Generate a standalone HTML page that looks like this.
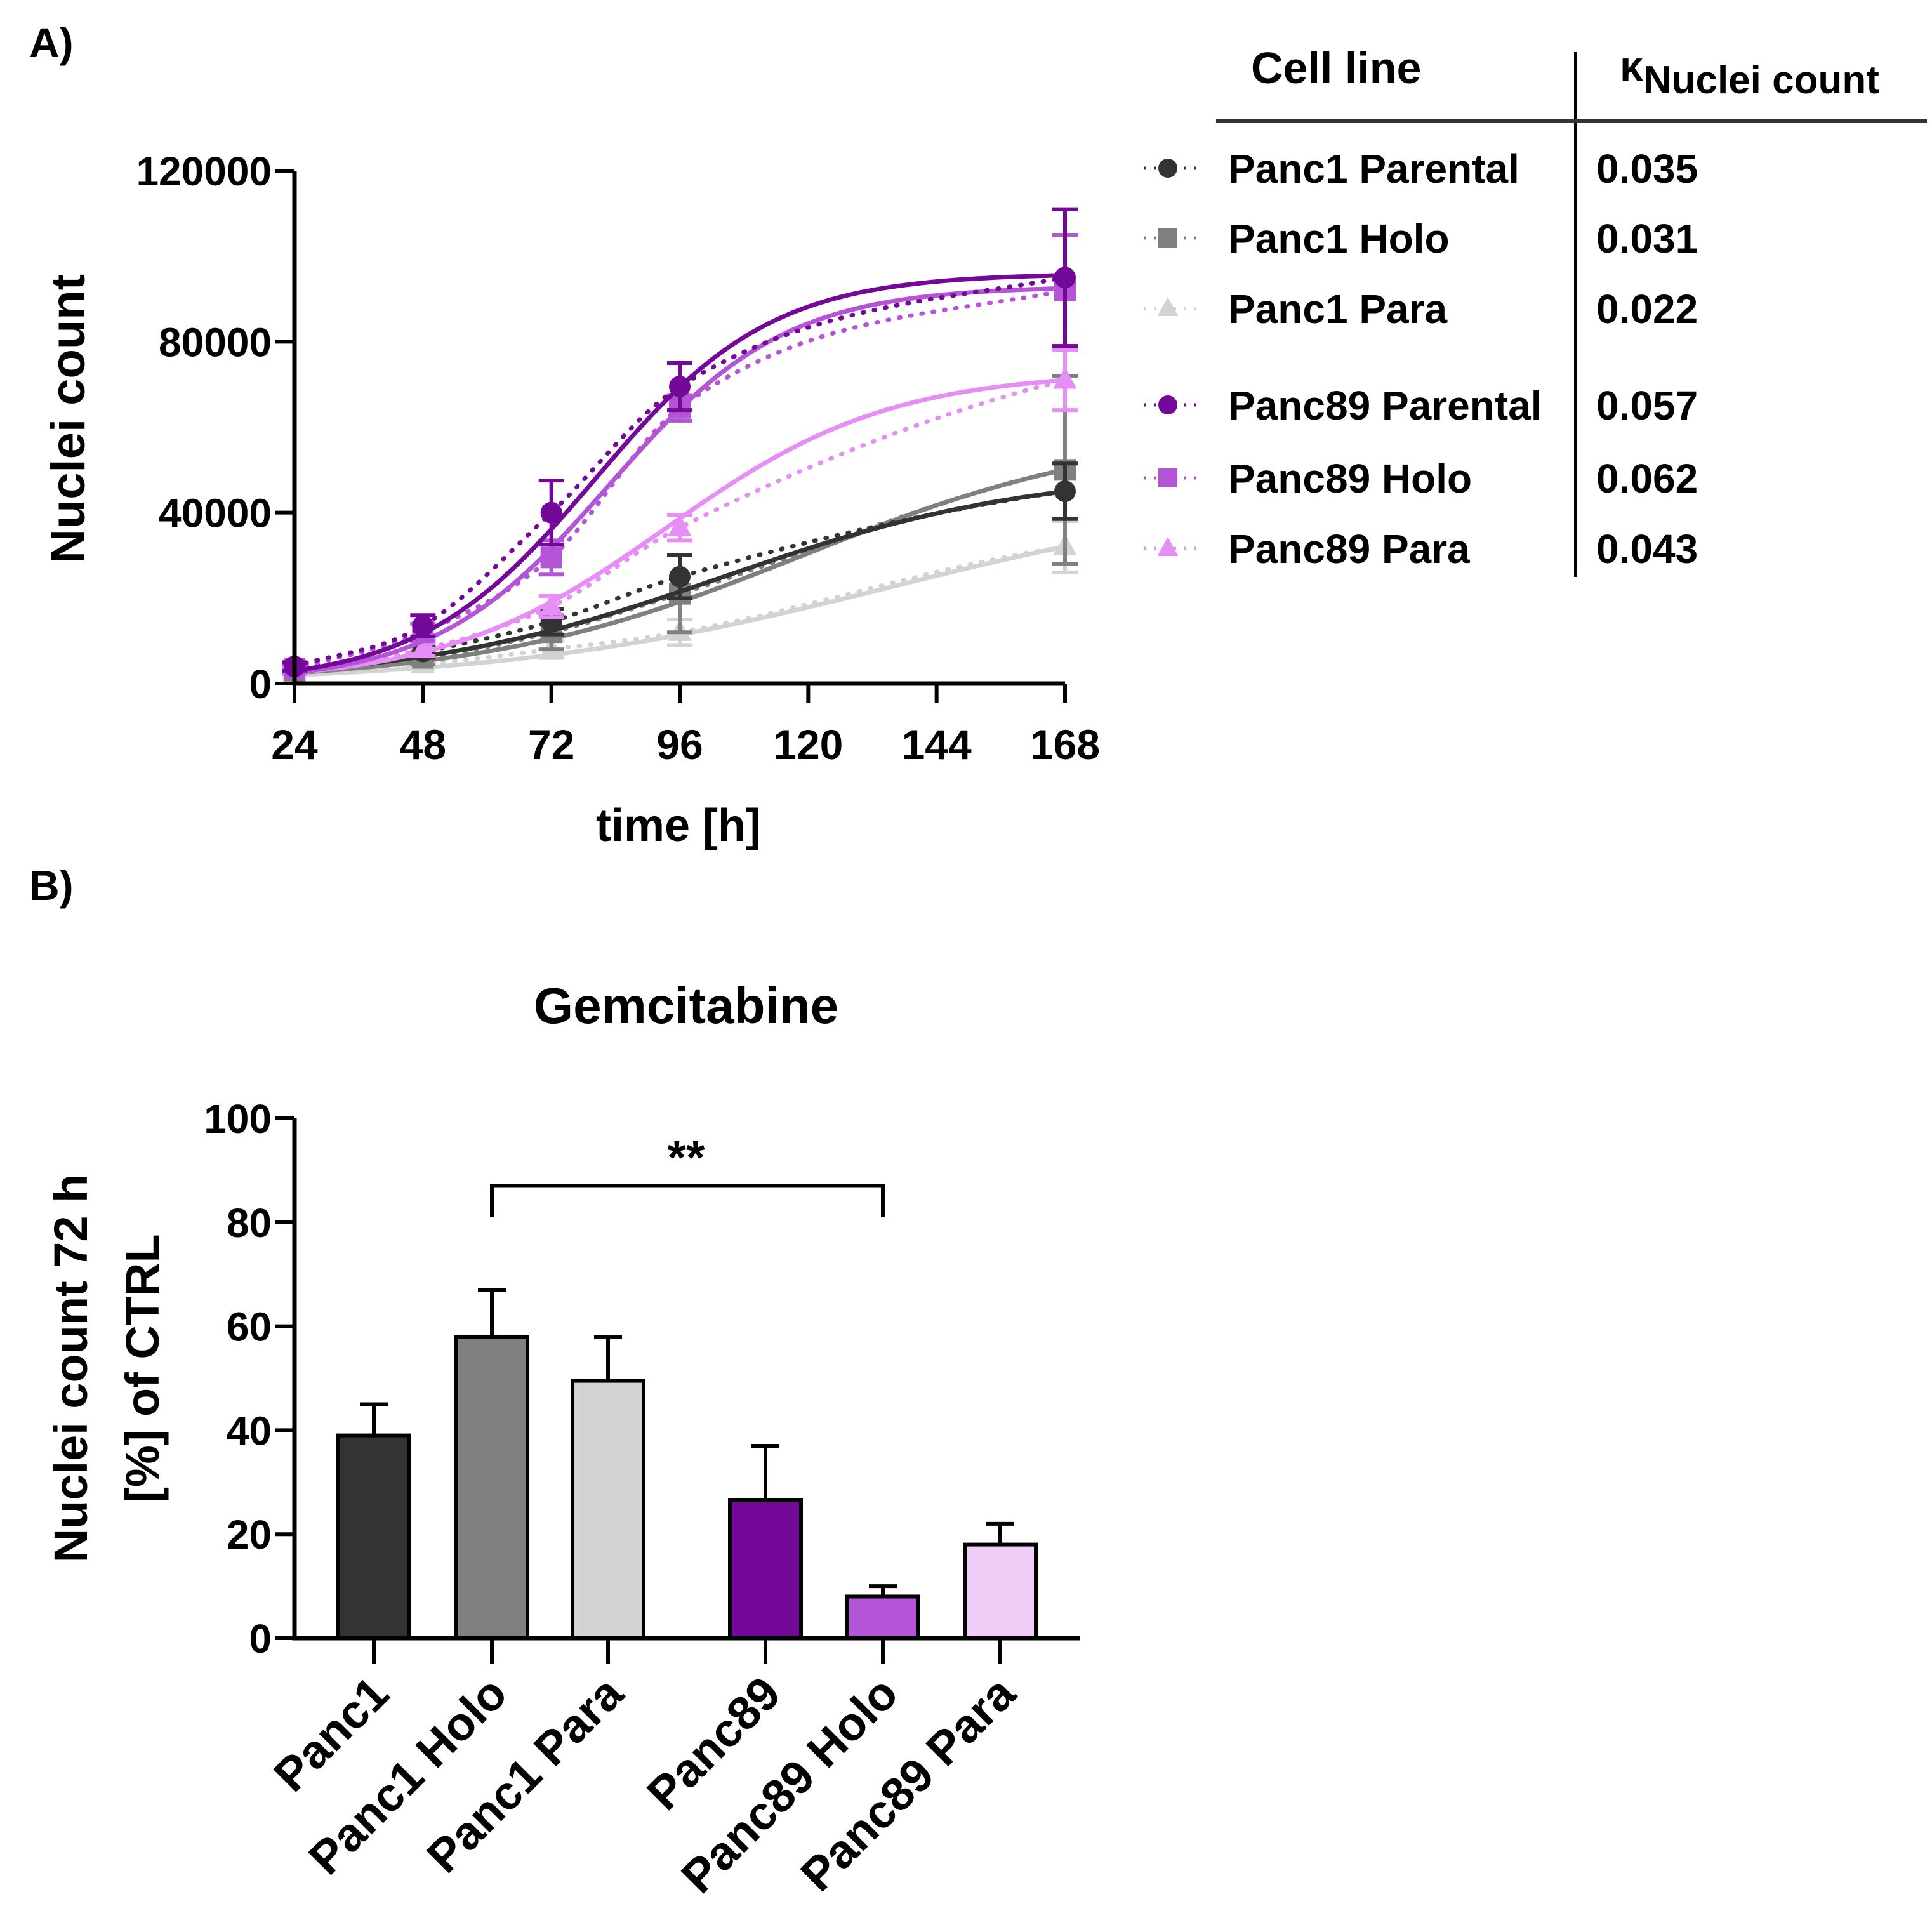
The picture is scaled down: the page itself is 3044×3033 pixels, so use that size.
<!DOCTYPE html>
<html><head><meta charset="utf-8">
<style>
html,body{margin:0;padding:0;background:#fff;}
svg{display:block;font-family:"Liberation Sans",sans-serif;font-weight:bold;}
</style></head>
<body>
<svg id="fig" width="3044" height="3033" viewBox="0 0 3044 3033" xmlns="http://www.w3.org/2000/svg">
<text x="46" y="90" font-size="66">A)</text>
<text x="46" y="1418" font-size="66">B)</text>
<g id="chartA"></g>
<g id="legendA"></g>
<g id="chartB"></g>
</svg>
<script>
// ---------- Chart A data ----------
const timesA = [24, 48, 72, 96, 168];
const seriesNames = ["Panc1 Parental","Panc1 Holo","Panc1 Para","Panc89 Parental","Panc89 Holo","Panc89 Para"];
const kappaValues = ["0.035","0.031","0.022","0.057","0.062","0.043"];
const p1Parental = [3500, 7500, 14500, 25000, 45000];
const p1Holo = [3000, 6000, 12000, 21000, 50000];
const p1Para = [2500, 4500, 8000, 12000, 32000];
const p89Parental = [4000, 13500, 40000, 69500, 95000];
const p89Holo = [3500, 12000, 29500, 64500, 92000];
const p89Para = [3000, 8000, 18000, 36500, 71000];
const errP1Parental = [800, 1500, 3000, 5000, 6500];
const errP1Holo = [700, 1500, 4000, 9000, 22000];
const errP1Para = [500, 1000, 2000, 3000, 6000];
const errP89Parental = [1000, 2500, 7500, 5500, 16000];
const errP89Holo = [900, 2000, 4000, 3000, 13000];
const errP89Para = [700, 1500, 2500, 3000, 7000];
const fitK = [50000, 60000, 45000, 96000, 93000, 73000];
const fitN0 = [3000, 2500, 2000, 3000, 2500, 2500];
const fitR = [0.0343, 0.033, 0.0276, 0.061, 0.061, 0.048];
const yTicksA = [0, 40000, 80000, 120000];
const xTicksA = [24, 48, 72, 96, 120, 144, 168];

// ---------- Chart B data ----------
const barCats = ["Panc1","Panc1 Holo","Panc1 Para","Panc89","Panc89 Holo","Panc89 Para"];
const barValues = [39, 58, 49.5, 26.5, 8, 18];
const barErrTop = [45, 67, 58, 37, 10, 22];
const yTicksB = [0, 20, 40, 60, 80, 100];

const NS="http://www.w3.org/2000/svg";
function mk(parent, tag, attrs, text){
  const e=document.createElementNS(NS,tag);
  for(const k in attrs) e.setAttribute(k, attrs[k]);
  if(text!==undefined) e.textContent=text;
  parent.appendChild(e); return e;
}
const colors=["#333333","#808080","#d3d3d3","#740898","#b454d6","#e68ef5"];
const markers=["circle","square","triangle","circle","square","triangle"];
const dataA=[p1Parental,p1Holo,p1Para,p89Parental,p89Holo,p89Para];
const errA=[errP1Parental,errP1Holo,errP1Para,errP89Parental,errP89Holo,errP89Para];

const ax={x0:464,x1:1678,y0:1077,y1:269};
const xA=t=>ax.x0+(t-24)/(168-24)*(ax.x1-ax.x0);
const yA=v=>ax.y0-(v/120000)*(ax.y0-ax.y1);

const A=document.getElementById('chartA');
function marker(g,type,cx,cy,s,color){
  let m;
  if(type==="circle") m=mk(g,'circle',{cx,cy,r:s,fill:color});
  else if(type==="square") m=mk(g,'rect',{x:cx-s,y:cy-s,width:2*s,height:2*s,fill:color});
  else m=mk(g,'polygon',{points:`${cx},${cy-s*1.2} ${cx-s*1.1},${cy+s*0.8} ${cx+s*1.1},${cy+s*0.8}`,fill:color});
  return m;
}
const order=[2,1,0,5,4,3];
order.forEach(i=>{
  const g=mk(A,'g',{});
  
  
  const d=dataA[i], c=colors[i];
  let p="";
  for(let t=24;t<=168;t+=1){
    const N=fitK[i]/(1+((fitK[i]-fitN0[i])/fitN0[i])*Math.exp(-fitR[i]*(t-24)));
    p+=(t===24?"M":"L")+xA(t).toFixed(1)+","+yA(N).toFixed(1);
  }
  const fit=mk(g,'path',{d:p,fill:"none",stroke:c,"stroke-width":7});
  
  
  let q="M"+xA(timesA[0])+","+yA(d[0]);
  for(let k=0;k<d.length-1;k++){
    const xa=xA(timesA[k]),xb=xA(timesA[k+1]),ya=yA(d[k]),yb=yA(d[k+1]);
    const sPrev=k>0?(yA(d[k])-yA(d[k-1]))/(xa-xA(timesA[k-1])):(yb-ya)/(xb-xa);
    const sNext=k<d.length-2?(yA(d[k+2])-yb)/(xA(timesA[k+2])-xb):(yb-ya)/(xb-xa)*0.3;
    const sCur=(yb-ya)/(xb-xa);
    const m1=(sPrev+sCur)/2, m2=(sCur+sNext)/2, h=(xb-xa)/3;
    q+=` C${xa+h},${ya+m1*h} ${xb-h},${yb-m2*h} ${xb},${yb}`;
  }
  const dot=mk(g,'path',{d:q,fill:"none",stroke:c,"stroke-width":7,"stroke-dasharray":"2 16","stroke-linecap":"round"});
  
  
  d.forEach((v,k)=>{
    const x=xA(timesA[k]);
    const eb=mk(g,'path',{d:`M${x},${yA(v-errA[i][k])}V${yA(v+errA[i][k])}M${x-20},${yA(v+errA[i][k])}h40M${x-20},${yA(v-errA[i][k])}h40`,stroke:c,"stroke-width":6,fill:"none"});
    
    
    const m=marker(g,markers[i],x,yA(v),17,c);
    
    
  });
});
const axA=mk(A,'g',{});


mk(axA,'path',{d:`M${ax.x0},${ax.y1}V${ax.y0}H${ax.x1}`,stroke:"#000","stroke-width":7,fill:"none"});
yTicksA.forEach(v=>{
  mk(axA,'path',{d:`M${ax.x0-30},${yA(v)}H${ax.x0}`,stroke:"#000","stroke-width":6});
  const t=mk(axA,'text',{x:ax.x0-36,y:yA(v)+23,"font-size":64,"text-anchor":"end"},String(v));
  
  
});
xTicksA.forEach(v=>{
  mk(axA,'path',{d:`M${xA(v)},${ax.y0}V${ax.y0+30}`,stroke:"#000","stroke-width":6});
  const t=mk(axA,'text',{x:xA(v),y:1196,"font-size":66,"text-anchor":"middle"},String(v));
  
  
});
const yt=mk(axA,'text',{x:0,y:0,"font-size":76,"text-anchor":"middle",transform:"translate(133,660) rotate(-90)"},"Nuclei count");


const xt=mk(axA,'text',{x:1069,y:1325,"font-size":72,"text-anchor":"middle"},"time [h]");



const L=document.getElementById('legendA');
mk(L,'path',{d:"M2482,82V909",stroke:"#000","stroke-width":4});
mk(L,'path',{d:"M1916,191H3036",stroke:"#333","stroke-width":6});
const h1=mk(L,'text',{x:1971,y:131,"font-size":70},"Cell line");


const h2=mk(L,'text',{x:2552,y:127,"font-size":66},"");


mk(h2,'tspan',{},"κ");
mk(h2,'tspan',{"font-size":62,dy:20},"Nuclei count");
const rowsY=[265,375,486,638,753,864];
seriesNames.forEach((n,i)=>{
  const g=mk(L,'g',{});
  
  
  const y=rowsY[i];
  mk(g,'path',{d:`M1802,${y}H1884`,stroke:colors[i],"stroke-width":5,"stroke-dasharray":"3 13"});
  marker(g,markers[i],1840,y,15,colors[i]);
  mk(g,'text',{x:1935,y:y+23,"font-size":64},n);
  mk(g,'text',{x:2515,y:y+23,"font-size":64},kappaValues[i]);
});

const B=document.getElementById('chartB');
const bx={x0:464,x1:1701,y0:2581,y1:1762};
const barCenters=[589,775,958,1206,1391,1576];
const barFill=["#333333","#808080","#d3d3d3","#740898","#b454d6","#f0cdf7"];
const yB=v=>bx.y0-(v/100)*(bx.y0-bx.y1);
const tB=mk(B,'text',{x:1081,y:1612,"font-size":80,"text-anchor":"middle"},"Gemcitabine");


barValues.forEach((v,i)=>{
  const cx=barCenters[i];
  const e=mk(B,'path',{d:`M${cx},${yB(v)}V${yB(barErrTop[i])}M${cx-22},${yB(barErrTop[i])}h44`,stroke:"#000","stroke-width":6,fill:"none"});
  
  
  const r=mk(B,'rect',{x:cx-56,y:yB(v),width:112,height:bx.y0-yB(v),fill:barFill[i],stroke:"#000","stroke-width":6});
  
  
  mk(B,'path',{d:`M${cx},${bx.y0}V${bx.y0+40}`,stroke:"#000","stroke-width":6});
  const lt=mk(B,'text',{x:0,y:0,"font-size":74,"text-anchor":"end",transform:`translate(${cx+28},${bx.y0+92}) rotate(-45)`},barCats[i]);
  
  
});
mk(B,'path',{d:`M${bx.x0},${bx.y1}V${bx.y0}H${bx.x1}`,stroke:"#000","stroke-width":7,fill:"none"});
yTicksB.forEach(v=>{
  mk(B,'path',{d:`M${bx.x0-30},${yB(v)}H${bx.x0}`,stroke:"#000","stroke-width":6});
  const t=mk(B,'text',{x:bx.x0-36,y:yB(v)+23,"font-size":64,"text-anchor":"end"},String(v));
  
  
});
const br=mk(B,'path',{d:`M775,${yB(81)}V${yB(87)}H1391V${yB(81)}`,stroke:"#000","stroke-width":6,fill:"none"});


const st=mk(B,'text',{x:1081,y:1850,"font-size":76,"text-anchor":"middle"},"**");


const yb1=mk(B,'text',{x:0,y:0,"font-size":74,"text-anchor":"middle",transform:"translate(137,2156) rotate(-90)"},"Nuclei count 72 h");


const yb2=mk(B,'text',{x:0,y:0,"font-size":74,"text-anchor":"middle",transform:"translate(250,2156) rotate(-90)"},"[%] of CTRL");


</script>
</body></html>
